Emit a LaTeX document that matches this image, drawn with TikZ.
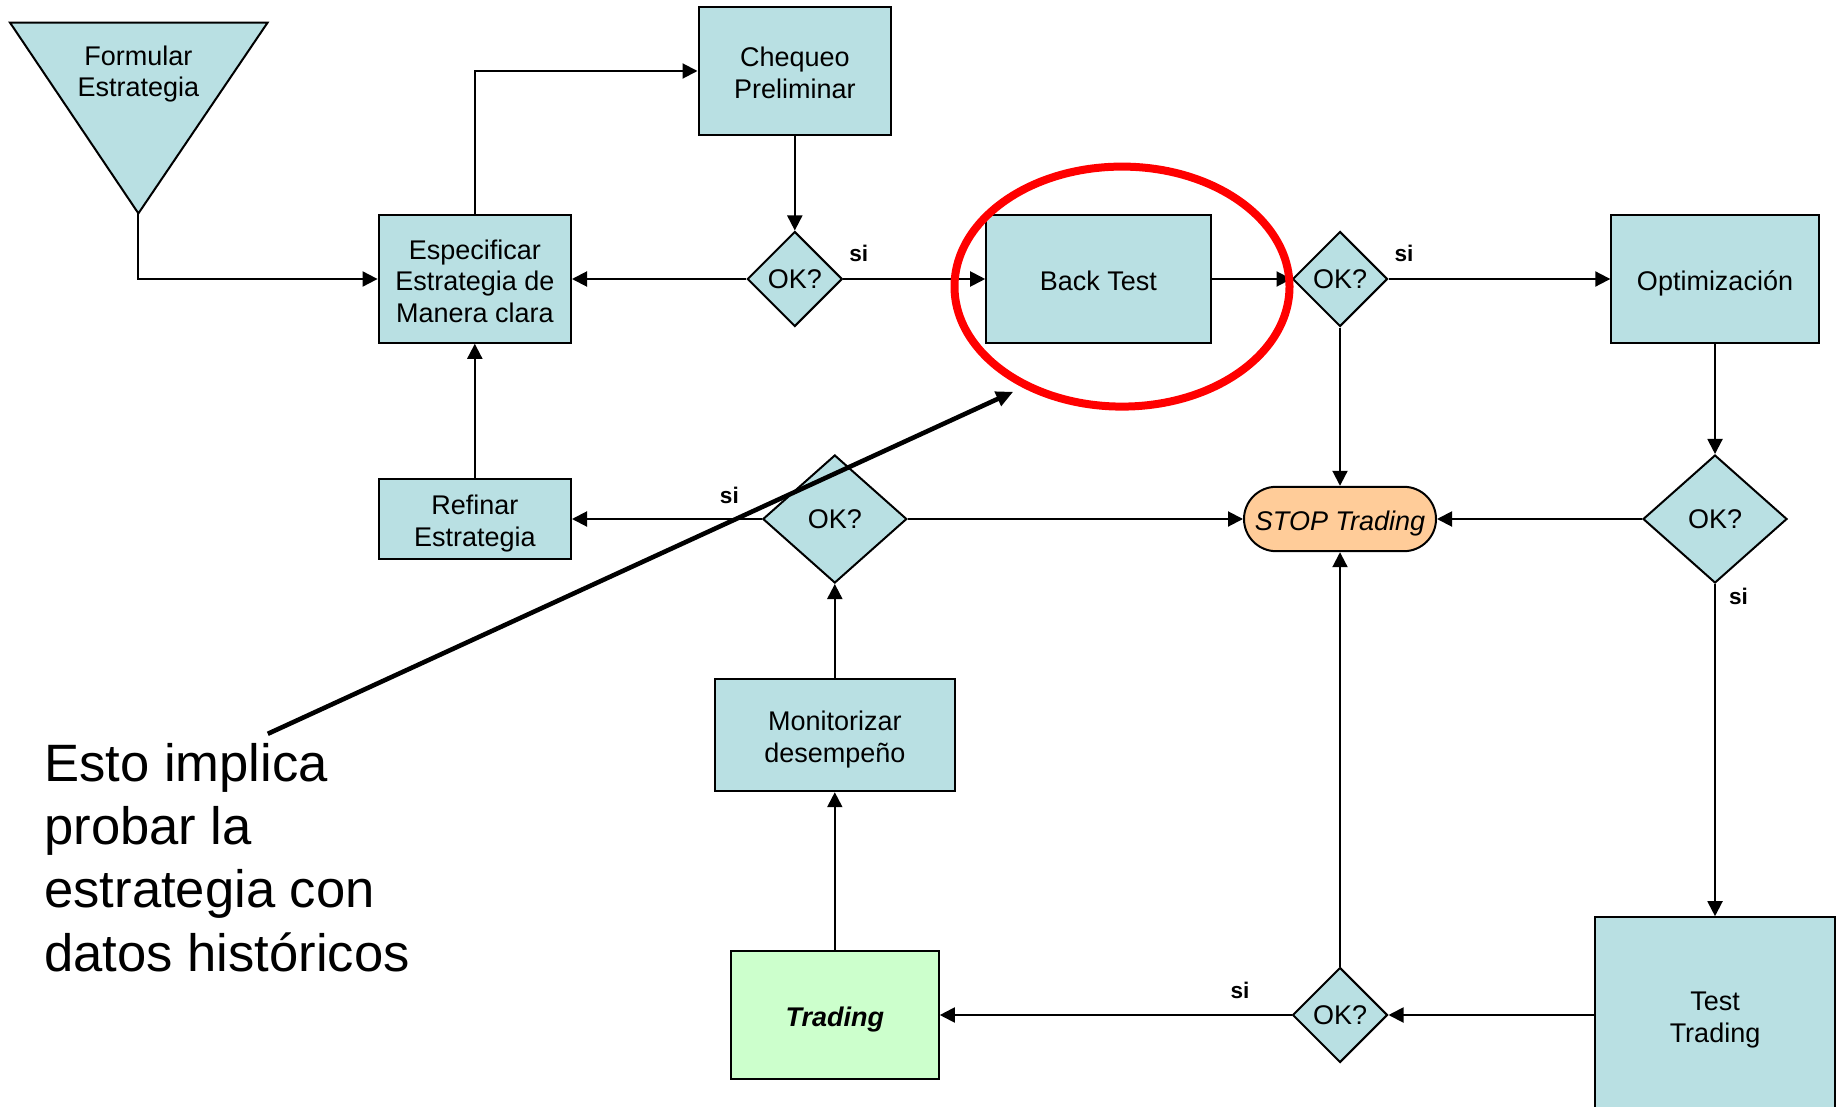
\documentclass[tikz,border=0pt]{standalone}
\usepackage{fontspec}
\setmainfont{Liberation Sans}
\usetikzlibrary{shapes.geometric,arrows.meta,positioning}
\definecolor{boxblue}{RGB}{185,224,227}
\definecolor{tradegreen}{RGB}{204,255,204}
\definecolor{stoporange}{RGB}{255,204,153}
\newcommand{\boxfont}{\fontsize{13.5}{15.85}\selectfont}
% struts so that the text sits like in the slide
\newcommand{\bx}[1]{\rule{0pt}{14.8pt}#1\rule[-3pt]{0pt}{3pt}}
\tikzset{
box/.style={draw, line width=1pt, fill=boxblue, inner sep=0pt, align=center, font=\boxfont}, % process boxes
okbox/.style={diamond, draw, line width=1pt, fill=boxblue, inner sep=0pt, font=\boxfont,
  minimum width=47.5pt, minimum height=47.5pt}, % decisions
bigok/.style={minimum width=72pt, minimum height=64pt},
stopbox/.style={box, fill=stoporange, rounded corners=16.1pt, minimum width=96pt, minimum height=32.2pt, font=\boxfont\itshape},
si/.style={inner sep=0pt, font=\fontsize{11.3}{13}\selectfont\bfseries},
conn/.style={-{Triangle[length=7.5pt,width=7.5pt]}, line width=1pt},
}
\tikzset{
    note/.style={align=left, inner sep=0pt, font=\fontsize{26.3}{31.6}\selectfont},
    pointer/.style={-{Triangle[length=8.5pt,width=7.5pt]}, line width=2.3pt},
    ring/.style={ellipse, draw=red, line width=4pt, minimum width=167.5pt, minimum height=120pt}
}
\begin{document}
\begin{tikzpicture}[on grid, node distance=120pt]
    \clip (0,0) rectangle (920.5pt,-553.5pt);
    % start triangle
    \coordinate (formtip) at (69.2pt,-106.7pt);
    \draw[line width=1pt, fill=boxblue] (5pt,-11.3pt) -- (133.8pt,-11.3pt) -- (formtip) -- cycle;
    \node[align=center, font=\boxfont, inner sep=0pt] (form) at (69.2pt,-37pt) {Formular\\Estrategia};
    % upper row
    \node[box, minimum width=96.2pt, minimum height=63.8pt] (espec) at (237.4pt,-139.5pt) {\bx{Especificar\\Estrategia de\\Manera clara}};
    \node[box, minimum width=96.3pt, minimum height=64.2pt] (chequeo) [above right=104pt and 160pt of espec] {\bx{Chequeo\\Preliminar}};
    \node[okbox] (ok1) [below=104pt of chequeo] {OK?};
    \node[box, minimum width=112.2pt, minimum height=63.8pt] (back) [right=151.8pt of ok1] {\bx{Back Test}};
    \node[okbox] (ok2) [right=120.8pt of back] {OK?};
    \node[box, minimum width=103.7pt, minimum height=63.8pt] (optim) [right=187.5pt of ok2] {\bx{Optimización}};
    % middle row
    \node[box, minimum width=96.2pt, minimum height=40pt] (refinar) [below=of espec] {\bx{Refinar\\Estrategia}};
    \node[okbox, bigok] (ok3) [right=180pt of refinar] {OK?};
    \node[stopbox] (stop) [below=of ok2] {\bx{STOP Trading}};
    \node[okbox, bigok] (ok4) [below=of optim] {OK?};
    % lower rows
    \node[box, minimum width=120.2pt, minimum height=56.2pt] (monit) [below=108pt of ok3] {\bx{Monitorizar\\desempeño}};
    \node[box, fill=tradegreen, minimum width=104pt, minimum height=63.7pt] (trading) [below=140pt of monit] {\bx{\textbf{\textit{Trading}}}};
    \node[okbox] (ok5) [below=248pt of stop] {OK?};
    \node[box, minimum width=120.4pt, minimum height=97.8pt] (testtr) [below=248pt of ok4] {\bx{Test\\Trading}};

    \draw[conn] (formtip) |- (espec);
    \draw[conn] (espec) |- (chequeo);
    \draw[conn] (chequeo) -- (ok1);
    \draw[conn] (ok1) -- (espec);
    \draw[conn] (ok1) -- node[si, anchor=south west, pos=0, xshift=2.5pt, yshift=8pt] (si1) {si} (back);
    \draw[conn] (back) -- (ok2);
    \draw[conn] (ok2) -- node[si, anchor=south west, pos=0, xshift=2.5pt, yshift=8pt] (si2) {si} (optim);
    \draw[conn] (ok2) -- (stop);
    \draw[conn] (optim) -- (ok4);
    \draw[conn] (ok4) -- (stop);
    \draw[conn] (ok4) -- node[si, anchor=north west, pos=0, xshift=6.5pt, yshift=-1.5pt] (si3) {si} (testtr);
    \draw[conn] (testtr) -- (ok5);
    \draw[conn] (ok5) -- node[si, anchor=south east, pos=0, xshift=-20.5pt, yshift=7.7pt] (si4) {si} (trading);
    \draw[conn] (ok5) -- (stop);
    \draw[conn] (trading) -- (monit);
    \draw[conn] (monit) -- (ok3);
    \draw[conn] (ok3) -- (stop);
    \draw[conn] (ok3) -- node[si, anchor=south east, pos=0, xshift=-11pt, yshift=7.2pt] (si5) {si} (refinar);
    \draw[conn] (refinar) -- (espec);

    % highlight and remark
    \node[ring] (ring) at (561pt,-143.3pt) {};
    \node[note, anchor=north west] (note) at (22pt,-371.5pt) {Esto implica\\probar la\\estrategia con\\datos históricos};
    \coordinate (notefrom) at (133.9pt,-366.9pt);
    \coordinate (noteto) at (506.6pt,-195.9pt);
    \draw[pointer] (notefrom) -- (noteto);
\end{tikzpicture}
\end{document}
